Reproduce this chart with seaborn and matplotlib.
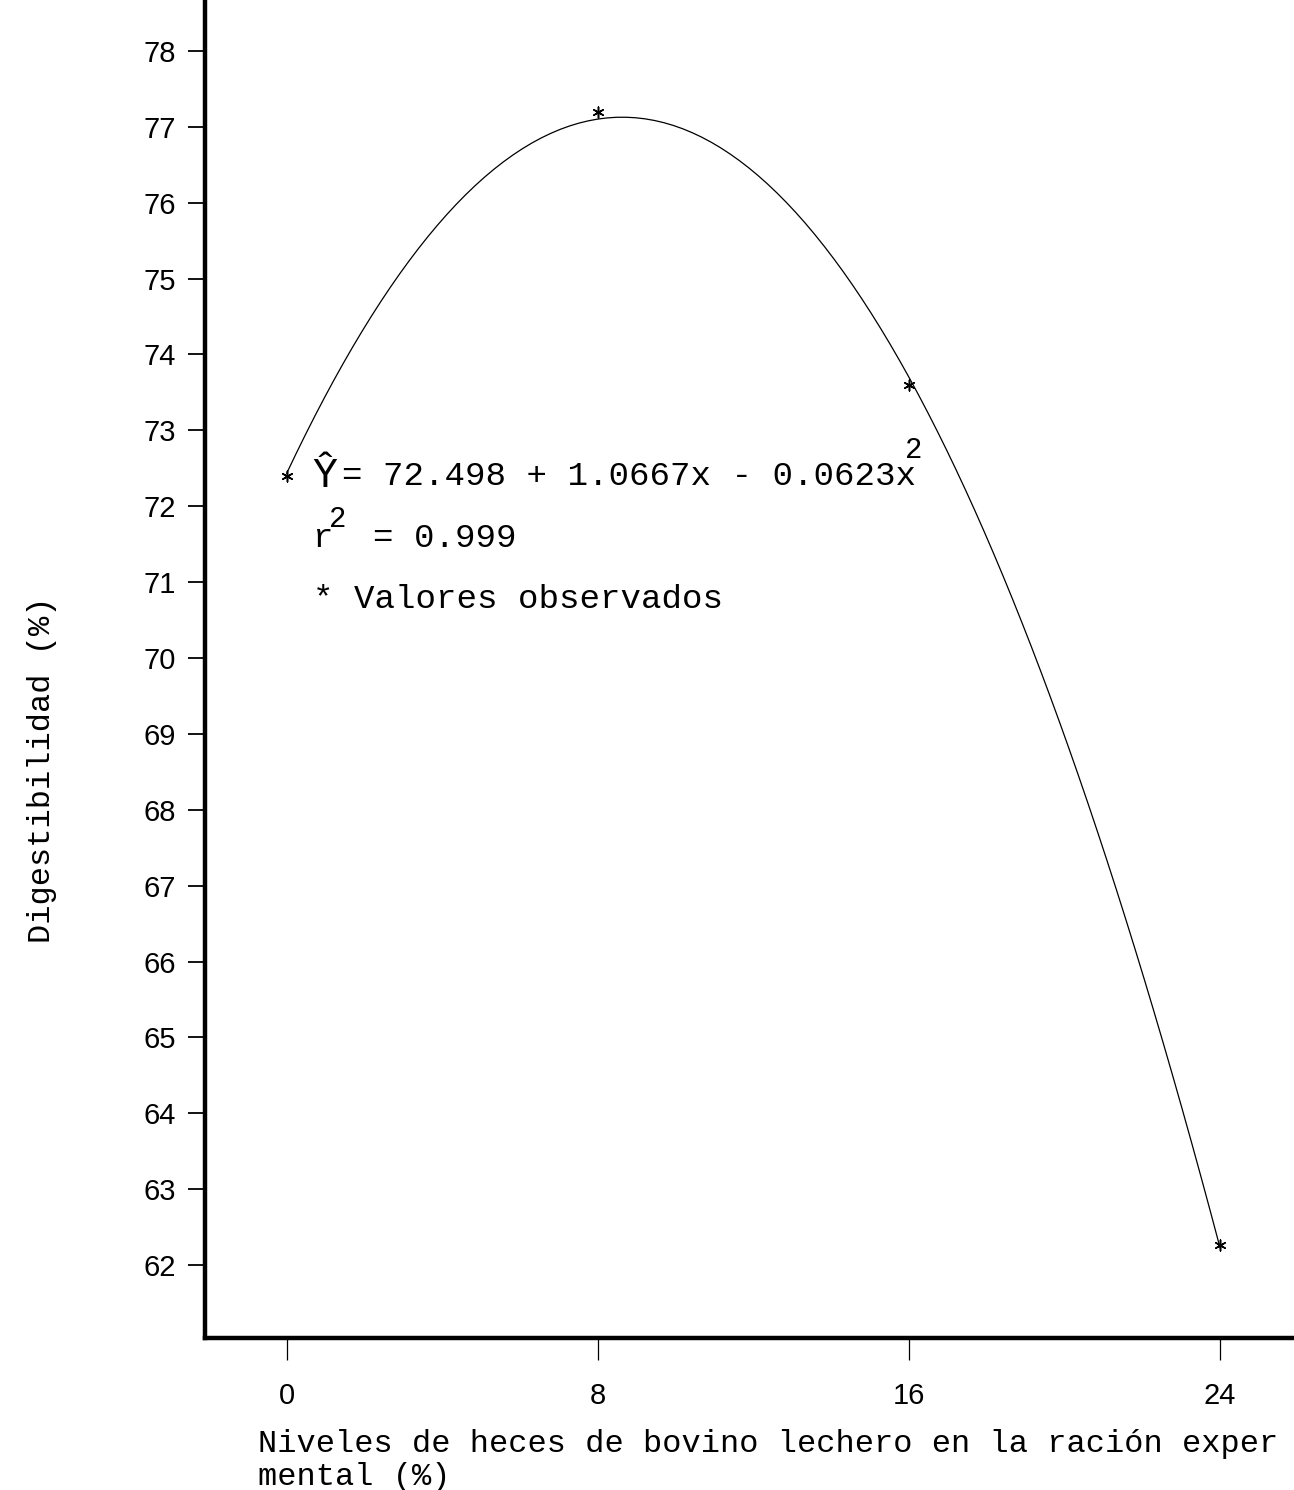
import numpy as np
import pandas as pd
import seaborn as sns
import matplotlib.pyplot as plt

niveles = [0, 8, 16, 24]
digest = [72.4, 77.2, 73.6, 62.26]
y_ticks = list(range(62, 79))
x_ticks = [0, 8, 16, 24]

df = pd.DataFrame({'nivel': niveles, 'digest': digest})

sns.set_style('white')
plt.rcParams['font.family'] = ['Liberation Mono', 'DejaVu Sans Mono']
plt.rcParams['text.color'] = 'black'

W, H = 1294, 1490
fig = plt.figure(figsize=(W / 100, H / 100), dpi=100)
ax = fig.add_axes([205 / W, 1 - 1338 / H, 1 - 205 / W, 1338 / H])

# quadratic fit line (order 2), as in the original regression
sns.regplot(data=df, x='nivel', y='digest', order=2, ci=None, truncate=True,
            scatter=False, ax=ax, line_kws={'color': 'black', 'lw': 0.9})
sns.scatterplot(data=df, x='nivel', y='digest', marker=(6, 2, 0), s=60,
                color='black', linewidth=1.1, ax=ax, zorder=3)

ax.set_xlim(-2.1, 25.9)
ax.set_ylim(61.04, 78.67)
ax.set_xticks(x_ticks)
ax.set_yticks(y_ticks)
ax.set_xlabel('')
ax.set_ylabel('')

for s in ['top', 'right']:
    ax.spines[s].set_visible(False)
for s in ['left', 'bottom']:
    ax.spines[s].set_linewidth(3.2)
    ax.spines[s].set_color('black')

ax.tick_params(axis='y', direction='out', length=12, width=1.3, pad=9,
               left=True, labelsize=21, colors='black')
ax.tick_params(axis='x', direction='out', length=16, width=0.9, pad=16,
               bottom=True, labelsize=21, colors='black')
for lab in ax.get_yticklabels() + ax.get_xticklabels():
    lab.set_fontfamily('Liberation Sans')

def px(x, y):
    return x / W, 1 - y / H

# annotation block
fig.text(*px(312, 487), '\u0176', fontsize=30, va='baseline', ha='left')
fig.text(*px(342, 485), '= 72.498 + 1.0667x - 0.0623x', fontsize=24.6,
         va='baseline', ha='left')
fig.text(*px(905, 458), '2', fontsize=21, va='baseline', ha='left')
fig.text(*px(313, 547), 'r', fontsize=24.6, va='baseline', ha='left')
fig.text(*px(329, 527), '2', fontsize=21, va='baseline', ha='left')
fig.text(*px(373, 547), '= 0.999', fontsize=24.6, va='baseline', ha='left')
fig.text(*px(313, 608), '* Valores observados', fontsize=24.6,
         va='baseline', ha='left')

# axis titles (x title wraps onto a second line, as typed)
fig.text(*px(258, 1452), 'Niveles de heces de bovino lechero en la ración exper',
         fontsize=23, va='baseline', ha='left')
fig.text(*px(258, 1485), 'mental (%)', fontsize=23, va='baseline', ha='left')
fig.text(*px(42, 770), 'Digestibilidad (%)', fontsize=23, rotation=90,
         va='center', ha='center')

fig.savefig('out.png', dpi=100)
